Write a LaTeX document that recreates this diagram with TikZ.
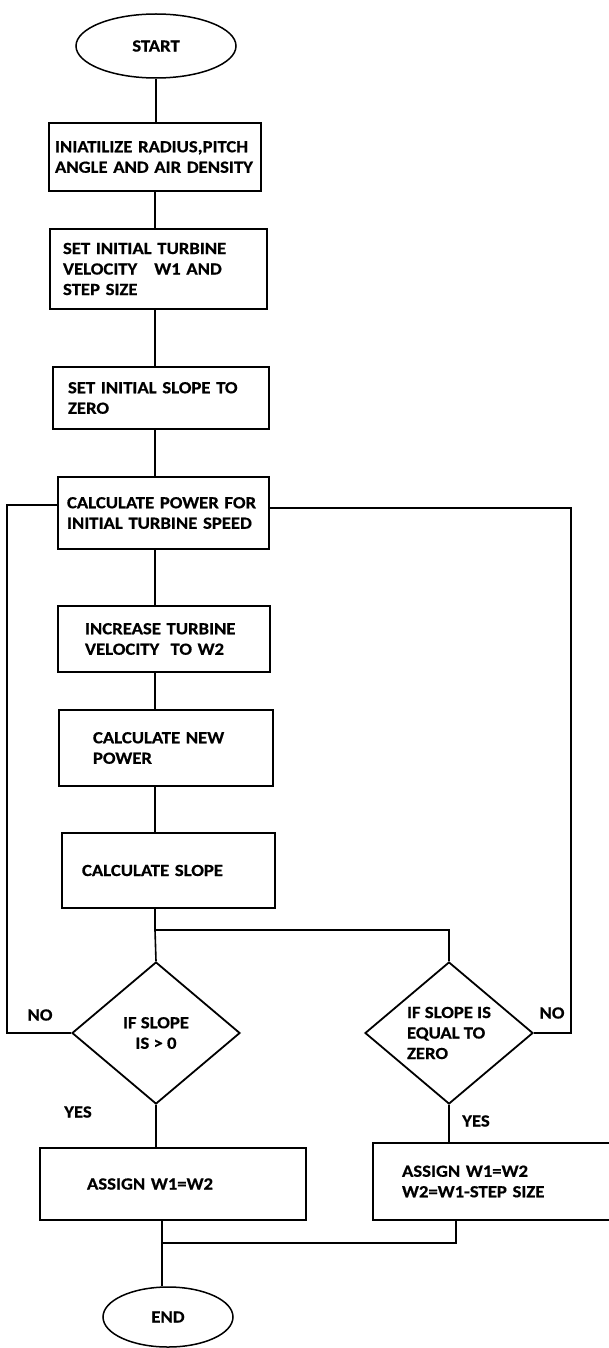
\documentclass[tikz,border=0pt]{standalone}
\usepackage{fontspec}
\setmainfont{Carlito}[BoldFeatures={FakeStretch=1.1, FakeBold=0.6}]
\usetikzlibrary{shapes.geometric}

\begin{document}
\begin{tikzpicture}[x=1pt, y=-1pt]
	\tikzset{bx/.style={draw, rectangle, line width=1.8pt, align=left, inner ysep=0pt, font=\bfseries\fontsize{17}{20.5}\selectfont},
		dm/.style={draw, diamond, aspect=1.2, line width=1.8pt, inner sep=0pt, minimum width=168, minimum height=142, align=center, font=\bfseries\fontsize{17}{20.5}\selectfont},
		el/.style={draw, ellipse, line width=1.5pt, font=\bfseries\fontsize{17}{20}\selectfont},
		lb/.style={font=\bfseries\fontsize{17}{20}\selectfont},
		ln/.style={line width=1.6pt}};

	\useasboundingbox (0,0) rectangle (609,1348);

	\node[el, minimum width=160, minimum height=64] (start) at (156,46) {START};
	\node[bx, minimum width=212, minimum height=68, inner xsep=6, text width=200] (init) at (155,157) {INIATILIZE~RADIUS,PITCH\\ANGLE~AND~AIR~DENSITY};
	\node[bx, minimum width=217, minimum height=80, inner xsep=13, text width=191] (setv) at (158.5,269) {SET INITIAL TURBINE\\VELOCITY\quad W1 AND\\STEP SIZE};
	\node[bx, minimum width=216, minimum height=62, inner xsep=15, text width=186] (zero) at (161,398) {SET~INITIAL~SLOPE~TO\\ZERO};
	\node[bx, minimum width=211, minimum height=72, inner xsep=9, text width=193] (pow) at (163.5,513) {CALCULATE~POWER~FOR\\INITIAL~TURBINE~SPEED};
	\node[bx, minimum width=212, minimum height=66, inner xsep=27, text width=158] (inc) at (164,639) {INCREASE~TURBINE\\VELOCITY\ \ TO W2};
	\node[bx, minimum width=214, minimum height=76, inner xsep=34, text width=146] (newp) at (166,748) {CALCULATE NEW\\POWER};
	\node[bx, minimum width=213, minimum height=75, inner xsep=20, text width=173] (slope) at (168.5,870.5) {CALCULATE SLOPE};
	\node[dm] (gt) at (156,1033) {IF SLOPE\\IS > 0};
	\node[dm, align=left] (eq) at (449,1033) {IF SLOPE IS\\EQUAL TO\\ZERO};
	\node[bx, minimum width=266, minimum height=72, inner xsep=47, text width=172] (asg1) at (173,1184) {ASSIGN W1=W2};
	\node[bx, minimum width=252, minimum height=77, inner xsep=29, text width=194] (asg2) at (499,1181.5) {ASSIGN W1=W2\\W2=W1-STEP SIZE};
	\node[el, minimum width=130, minimum height=60] (end) at (168,1317) {END};

	\node[lb] (no1) at (40,1015) {NO};
	\node[lb] (yes1) at (78,1112) {YES};
	\node[lb] (no2) at (552,1013) {NO};
	\node[lb] (yes2) at (476,1121) {YES};

	\coordinate (sp) at (155,0);
	\coordinate (loopL) at (7,505);
	\coordinate (loopR) at (571,508);
	\coordinate (split) at (155,930);
	\coordinate (join) at (162,1243);

	\draw[ln] (start.south) to (start.south |- init.north);
	\draw[ln] (init.south -| sp) to (setv.north -| sp);
	\draw[ln] (setv.south -| sp) to (zero.north -| sp);
	\draw[ln] (zero.south -| sp) to (pow.north -| sp);
	\draw[ln] (pow.south -| sp) to (inc.north -| sp);
	\draw[ln] (inc.south -| sp) to (newp.north -| sp);
	\draw[ln] (newp.south -| sp) to (slope.north -| sp);
	\draw[ln] (slope.south -| sp) to (split) to (gt.north);
	\draw[ln] (split) -- (split -| eq.north) -- (eq.north);

	\draw[ln] (gt.west) -| (loopL) -- (loopL -| pow.west);
	\draw[line width=1.2pt] (eq.east) -| (loopR) -- (loopR -| pow.east);

	\draw[ln] (gt.south) to (gt.south |- asg1.north);
	\draw[ln] (eq.south) to (eq.south |- asg2.north);
	\draw[ln] (asg2.south -| 456,0) |- (join);
	\draw[ln] (asg1.south -| join) to (join) to (join |- end.north);

\end{tikzpicture}
\end{document}
